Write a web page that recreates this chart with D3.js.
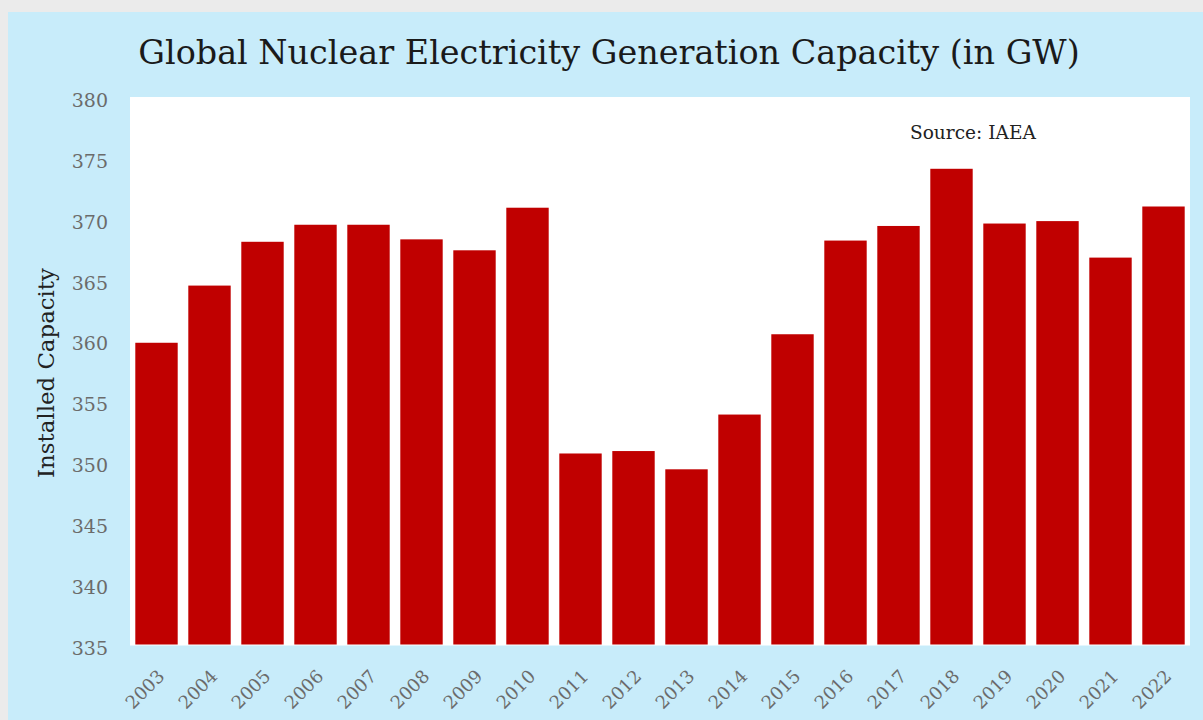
<!DOCTYPE html>
<html>
<head>
<meta charset="utf-8">
<script src="https://cdn.jsdelivr.net/npm/d3@7"></script>
<style>
  html, body { margin: 0; padding: 0; background: #ebebeb; }
  svg { display: block; }
</style>
</head>
<body>
<svg id="chart" width="1203" height="720"></svg>
<script>
const years = ["2003","2004","2005","2006","2007","2008","2009","2010","2011","2012",
               "2013","2014","2015","2016","2017","2018","2019","2020","2021","2022"];
const capacity = [359.8, 364.5, 368.1, 369.5, 369.5, 368.3, 367.4, 370.9, 350.7, 350.9,
                  349.4, 353.9, 360.5, 368.2, 369.4, 374.1, 369.6, 369.8, 366.8, 371.0];
const yTicks = [335, 340, 345, 350, 355, 360, 365, 370, 375, 380];
const titleText = "Global Nuclear Electricity Generation Capacity (in GW)";
const yLabelText = "Installed Capacity";
const sourceText = "Source: IAEA";

const svg = d3.select("#chart");
const serif = "'DejaVu Serif', 'Liberation Serif', serif";

// panel background
svg.append("rect").attr("x", 8).attr("y", 12).attr("width", 1203).attr("height", 720)
  .attr("fill", "#c8ecfa");

const plot = {left: 130, right: 1190, top: 97, bottom: 644.5};

svg.append("rect").attr("x", plot.left).attr("y", plot.top)
  .attr("width", plot.right - plot.left).attr("height", plot.bottom - plot.top + 1)
  .attr("fill", "#ffffff");

const x = d3.scaleBand().domain(years).range([plot.left, plot.right])
  .paddingInner(0.2).paddingOuter(0.1);
const y = d3.scaleLinear().domain([335, 380]).range([plot.bottom, plot.top]);

svg.append("g").selectAll("rect").data(years).join("rect")
  .attr("x", d => x(d))
  .attr("width", x.bandwidth())
  .attr("y", (d, i) => y(capacity[i]))
  .attr("height", (d, i) => y(335) - y(capacity[i]))
  .attr("fill", "#c00000");

// y axis
const yAxis = svg.append("g").attr("transform", `translate(${plot.left},0)`)
  .call(d3.axisLeft(y).tickValues(yTicks).tickSize(0).tickPadding(22).tickFormat(d3.format("d")));
yAxis.select(".domain").remove();
yAxis.selectAll("text").attr("font-family", serif).attr("font-size", 19)
  .attr("fill", "#6b6b6b").attr("dy", "0.5em");

// x axis
const xAxis = svg.append("g").attr("transform", `translate(0,${plot.bottom})`)
  .call(d3.axisBottom(x).tickSize(0).tickPadding(0));
xAxis.select(".domain").remove();
xAxis.selectAll("text")
  .attr("font-family", serif).attr("font-size", 18).attr("fill", "#6b6b6b")
  .attr("text-anchor", "end")
  .attr("dy", "0")
  .attr("transform", "translate(9,33) rotate(-45)");

function fit(sel, target) {
  const w = sel.node().getComputedTextLength();
  const fs = parseFloat(sel.attr("font-size"));
  sel.attr("font-size", fs * target / w);
}

// title
const title = svg.append("text").attr("x", 609).attr("y", 64)
  .attr("text-anchor", "middle").attr("font-family", serif)
  .attr("font-size", 30).attr("fill", "#1a1a1a").text(titleText);
fit(title, 942);

// y label
const yl = svg.append("text").attr("transform", "translate(54,373) rotate(-90)")
  .attr("text-anchor", "middle").attr("font-family", serif)
  .attr("font-size", 20).attr("fill", "#222").text(yLabelText);
fit(yl, 210);

// source
const src = svg.append("text").attr("x", 910).attr("y", 139)
  .attr("font-family", serif).attr("font-size", 14).attr("fill", "#222").text(sourceText);
fit(src, 126);
</script>
</body>
</html>
